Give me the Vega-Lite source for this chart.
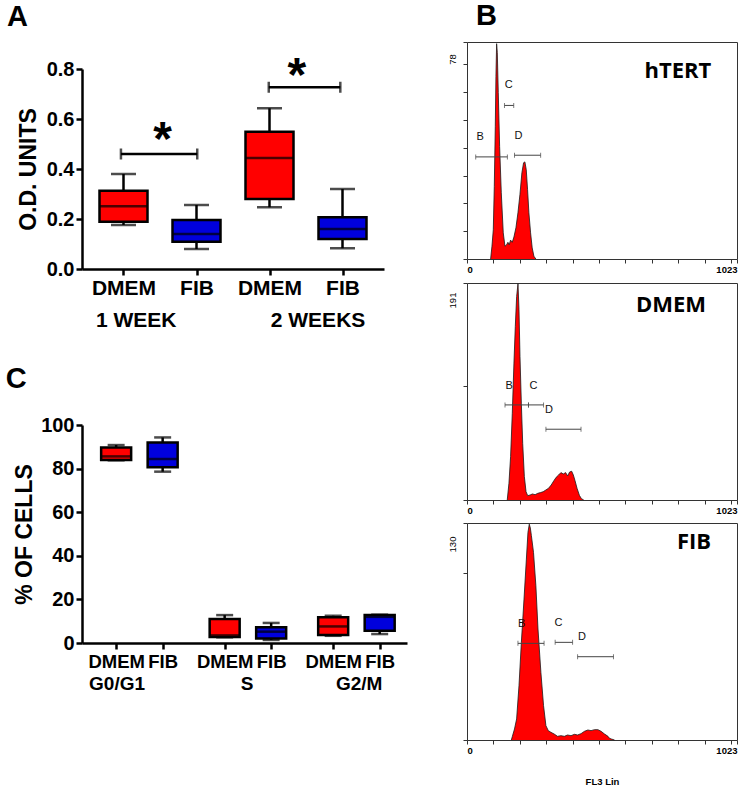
{
  "$schema": "https://vega.github.io/schema/vega-lite/v6.json",
  "padding": {"left": 5, "top": 1, "right": 5, "bottom": 0},
  "background": "white",
  "config": {
    "view": {"stroke": null},
    "font": "Liberation Sans",
    "axis": {"grid": false, "labelColor": "black", "titleColor": "black", "labelFont": "Liberation Sans", "titleFont": "Liberation Sans"},
    "title": {"fontSize": 29, "fontWeight": "bold", "anchor": "start", "frame": "bounds", "baseline": "alphabetic", "color": "black", "font": "Liberation Sans"}
  },
  "datasets": {
    "odUnits": [
      {"group": "DMEM", "week": "1 WEEK", "pos": 1, "low": 0.176, "q1": 0.189, "median": 0.251, "q3": 0.313, "high": 0.38},
      {"group": "FIB", "week": "1 WEEK", "pos": 3, "low": 0.08, "q1": 0.109, "median": 0.14, "q3": 0.196, "high": 0.256},
      {"group": "DMEM", "week": "2 WEEKS", "pos": 5, "low": 0.247, "q1": 0.28, "median": 0.444, "q3": 0.549, "high": 0.643},
      {"group": "FIB", "week": "2 WEEKS", "pos": 7, "low": 0.083, "q1": 0.12, "median": 0.16, "q3": 0.207, "high": 0.32}
    ],
    "odSignificance": [
      {"week": "1 WEEK", "start": 0.93, "end": 3.02, "level": 0.46, "starPos": 2.07, "starLevel": 0.552},
      {"week": "2 WEEKS", "start": 4.98, "end": 6.94, "level": 0.727, "starPos": 5.75, "starLevel": 0.808}
    ],
    "odWeeks": [
      {"week": "1 WEEK", "pos": 1.35, "level": -0.208},
      {"week": "2 WEEKS", "pos": 6.33, "level": -0.208}
    ],
    "cellCycle": [
      {"phase": "G0/G1", "group": "DMEM", "pos": 1, "low": 83.8, "q1": 84, "median": 85.6, "q3": 89.7, "high": 90.8},
      {"phase": "G0/G1", "group": "FIB", "pos": 2.5, "low": 78.6, "q1": 80.6, "median": 84.4, "q3": 92, "high": 94.3},
      {"phase": "S", "group": "DMEM", "pos": 4.5, "low": 2.6, "q1": 2.8, "median": 3.5, "q3": 11, "high": 12.8},
      {"phase": "S", "group": "FIB", "pos": 6, "low": 1.4, "q1": 2.1, "median": 5.2, "q3": 7.2, "high": 9.2},
      {"phase": "G2/M", "group": "DMEM", "pos": 8, "low": 3.3, "q1": 3.7, "median": 7.6, "q3": 11.8, "high": 12.5},
      {"phase": "G2/M", "group": "FIB", "pos": 9.5, "low": 4.1, "q1": 5.6, "median": 12, "q3": 12.8, "high": 13}
    ],
    "cellPhases": [
      {"phase": "G0/G1", "pos": 1.03, "level": -18.8},
      {"phase": "S", "pos": 5.22, "level": -18.8},
      {"phase": "G2/M", "pos": 8.84, "level": -18.8}
    ],
    "histHTERT": [
      {"channel": 89.5, "count": 0}, {"channel": 94.6, "count": 4.6}, {"channel": 99.6, "count": 10.5}, {"channel": 103.4, "count": 26.1},
      {"channel": 107.2, "count": 47.7}, {"channel": 109.7, "count": 65.7}, {"channel": 112.2, "count": 77.4}, {"channel": 114.8, "count": 74.2},
      {"channel": 118.5, "count": 59.8}, {"channel": 123.6, "count": 40.5}, {"channel": 129.9, "count": 23.8}, {"channel": 137.4, "count": 9.4},
      {"channel": 143.8, "count": 4.6}, {"channel": 150, "count": 5.1}, {"channel": 155, "count": 6}, {"channel": 160, "count": 5.1},
      {"channel": 165, "count": 6.8}, {"channel": 171.5, "count": 6}, {"channel": 177.8, "count": 7.9}, {"channel": 185.4, "count": 11.2},
      {"channel": 193, "count": 16.6}, {"channel": 200.5, "count": 23.1}, {"channel": 208, "count": 31}, {"channel": 214.4, "count": 34.6},
      {"channel": 219.4, "count": 34.9}, {"channel": 224.5, "count": 32.1}, {"channel": 229.5, "count": 24.9}, {"channel": 234.5, "count": 16.6},
      {"channel": 240.9, "count": 9.4}, {"channel": 247, "count": 4}, {"channel": 253.5, "count": 1}, {"channel": 261, "count": 0}
    ],
    "histDMEM": [
      {"channel": 152.5, "count": 0}, {"channel": 158.9, "count": 14.7}, {"channel": 165.2, "count": 38.2}, {"channel": 171.6, "count": 76.4},
      {"channel": 177.9, "count": 120.5}, {"channel": 183, "count": 152.8}, {"channel": 188.1, "count": 179.2}, {"channel": 193.2, "count": 190.4},
      {"channel": 197, "count": 167.5}, {"channel": 200.8, "count": 126.3}, {"channel": 205.9, "count": 85.2}, {"channel": 211, "count": 49.9},
      {"channel": 217.3, "count": 20.6}, {"channel": 223.7, "count": 7.3}, {"channel": 230, "count": 3.8}, {"channel": 239, "count": 4.4},
      {"channel": 247.8, "count": 5.3}, {"channel": 258, "count": 4.7}, {"channel": 268.2, "count": 5.9}, {"channel": 278.3, "count": 6.5},
      {"channel": 288.5, "count": 7.3}, {"channel": 298.7, "count": 8.8}, {"channel": 308.9, "count": 10.3}, {"channel": 319, "count": 13.2},
      {"channel": 329.2, "count": 17}, {"channel": 338, "count": 20}, {"channel": 347, "count": 22}, {"channel": 355.9, "count": 24.1},
      {"channel": 364.8, "count": 22.9}, {"channel": 373.7, "count": 24.1}, {"channel": 381.3, "count": 21.2}, {"channel": 388.9, "count": 24.7},
      {"channel": 396.6, "count": 25.3}, {"channel": 402.9, "count": 22}, {"channel": 409.3, "count": 17}, {"channel": 416.9, "count": 10.3},
      {"channel": 425.8, "count": 4.1}, {"channel": 433.4, "count": 1.2}, {"channel": 442.3, "count": 0}
    ],
    "histFIB": [
      {"channel": 168, "count": 0}, {"channel": 172, "count": 2.2}, {"channel": 180, "count": 6.6}, {"channel": 188, "count": 12.6},
      {"channel": 197, "count": 32.5}, {"channel": 206, "count": 58.5}, {"channel": 216, "count": 84.4}, {"channel": 225, "count": 108.4},
      {"channel": 231, "count": 124.4}, {"channel": 236, "count": 129.3}, {"channel": 240, "count": 127}, {"channel": 244, "count": 122.4},
      {"channel": 252, "count": 112.4}, {"channel": 261, "count": 92.4}, {"channel": 269, "count": 66.5}, {"channel": 280, "count": 40.5},
      {"channel": 290, "count": 20.6}, {"channel": 299, "count": 8.6}, {"channel": 308, "count": 5.6}, {"channel": 318, "count": 4.6},
      {"channel": 330, "count": 3.6}, {"channel": 343, "count": 2.2}, {"channel": 356, "count": 2.6}, {"channel": 369, "count": 2.2},
      {"channel": 381, "count": 3}, {"channel": 394, "count": 2.6}, {"channel": 407, "count": 3.4}, {"channel": 419, "count": 3},
      {"channel": 432, "count": 3.8}, {"channel": 445, "count": 5.2}, {"channel": 458, "count": 6}, {"channel": 470, "count": 5.6},
      {"channel": 483, "count": 6.2}, {"channel": 496, "count": 6.2}, {"channel": 508, "count": 5.2}, {"channel": 521, "count": 3.6},
      {"channel": 534, "count": 2.2}, {"channel": 540, "count": 1}, {"channel": 547, "count": 0.6}, {"channel": 559, "count": 0}
    ],
    "gatesHTERT": [
      {"gate": "B", "start": 33, "end": 153, "level": 36.7, "labelPos": 50, "labelLevel": 43.8},
      {"gate": "C", "start": 142, "end": 177, "level": 55.2, "labelPos": 158, "labelLevel": 62.4},
      {"gate": "D", "start": 180, "end": 279, "level": 37.3, "labelPos": 195, "labelLevel": 44.2}
    ],
    "gatesDMEM": [
      {"gate": "B", "start": 144, "end": 233, "level": 83.7, "labelPos": 160, "labelLevel": 100.5},
      {"gate": "C", "start": 233, "end": 290, "level": 83.7, "labelPos": 252, "labelLevel": 100.5},
      {"gate": "D", "start": 299, "end": 432, "level": 62.3, "labelPos": 311, "labelLevel": 79}
    ],
    "gatesFIB": [
      {"gate": "B", "start": 193, "end": 292, "level": 57.9, "labelPos": 207, "labelLevel": 69.5},
      {"gate": "C", "start": 334, "end": 400, "level": 58.5, "labelPos": 347, "labelLevel": 70},
      {"gate": "D", "start": 419, "end": 555, "level": 49.9, "labelPos": 436, "labelLevel": 61.5}
    ],
    "samples": [
      {"sample": "hTERT", "pos": 799, "levelHTERT": 67.4},
      {"sample": "DMEM", "pos": 773, "levelDMEM": 171.6},
      {"sample": "FIB", "pos": 860, "levelFIB": 118.6}
    ]
  },
  "spacing": 39,
  "hconcat": [
    {
      "spacing": 34,
      "vconcat": [
        {
          "spacing": 10,
          "vconcat": [
            {
              "width": 302,
              "height": 1,
              "title": {"text": "A", "offset": 10, "dx": -75},
              "data": {"values": []},
              "mark": {"type": "point", "opacity": 0}
            },
            {
              "width": 302,
              "height": 200,
              "layer": [
                {
                  "data": {"name": "odUnits"},
                  "mark": {"type": "rule", "color": "black", "strokeWidth": 2.5},
                  "encoding": {
                    "x": {"field": "pos", "type": "quantitative", "scale": {"domain": [0, 8], "nice": false, "zero": false},
                      "axis": {"values": [1, 3, 5, 7], "labelExpr": "datum.value == 1 || datum.value == 5 ? 'DMEM' : 'FIB'", "title": null,
                        "domainColor": "black", "domainWidth": 2.5, "tickColor": "black", "tickWidth": 2.5, "tickSize": 6,
                        "labelFontSize": 21, "labelFontWeight": "bold", "labelPadding": 2, "labelFlush": false, "labelOverlap": false}},
                    "y": {"field": "low", "type": "quantitative", "scale": {"domain": [0, 0.8], "nice": false},
                      "axis": {"values": [0, 0.2, 0.4, 0.6, 0.8], "format": ".1f", "title": "O.D. UNITS", "titleFontSize": 23, "titleFontWeight": "bold",
                        "titlePadding": 6, "domainColor": "black", "domainWidth": 2.5, "tickColor": "black", "tickWidth": 2.5, "tickSize": 6,
                        "labelFontSize": 20, "labelFontWeight": "bold", "labelPadding": 2}},
                    "y2": {"field": "high"}
                  }
                },
                {
                  "data": {"name": "odUnits"},
                  "transform": [{"fold": ["low", "high"], "as": ["whisker", "value"]}],
                  "mark": {"type": "tick", "orient": "horizontal", "size": 25, "thickness": 2.5, "color": "black"},
                  "encoding": {
                    "x": {"field": "pos", "type": "quantitative"},
                    "y": {"field": "value", "type": "quantitative"}
                  }
                },
                {
                  "data": {"name": "odUnits"},
                  "mark": {"type": "bar", "size": 48, "stroke": "black", "strokeWidth": 2.5},
                  "encoding": {
                    "x": {"field": "pos", "type": "quantitative"},
                    "y": {"field": "q1", "type": "quantitative"},
                    "y2": {"field": "q3"},
                    "fill": {"field": "group", "type": "nominal", "scale": {"domain": ["DMEM", "FIB"], "range": ["#ff0000", "#0000dd"]}, "legend": null}
                  }
                },
                {
                  "data": {"name": "odUnits"},
                  "mark": {"type": "tick", "orient": "horizontal", "size": 48, "thickness": 2.5, "color": "black"},
                  "encoding": {
                    "x": {"field": "pos", "type": "quantitative"},
                    "y": {"field": "median", "type": "quantitative"}
                  }
                },
                {
                  "data": {"name": "odSignificance"},
                  "mark": {"type": "rule", "color": "black", "strokeWidth": 2.5},
                  "encoding": {
                    "x": {"field": "start", "type": "quantitative"},
                    "x2": {"field": "end"},
                    "y": {"field": "level", "type": "quantitative"}
                  }
                },
                {
                  "data": {"name": "odSignificance"},
                  "transform": [{"fold": ["start", "end"], "as": ["side", "edge"]}],
                  "mark": {"type": "tick", "orient": "vertical", "size": 11, "thickness": 2.5, "color": "black"},
                  "encoding": {
                    "x": {"field": "edge", "type": "quantitative"},
                    "y": {"field": "level", "type": "quantitative"}
                  }
                },
                {
                  "data": {"name": "odSignificance"},
                  "mark": {"type": "text", "text": "*", "fontSize": 48, "fontWeight": "bold", "baseline": "alphabetic", "align": "center", "dy": 24, "color": "black"},
                  "encoding": {
                    "x": {"field": "starPos", "type": "quantitative"},
                    "y": {"field": "starLevel", "type": "quantitative"}
                  }
                },
                {
                  "data": {"name": "odWeeks"},
                  "mark": {"type": "text", "fontSize": 21, "fontWeight": "bold", "baseline": "middle", "align": "center", "color": "black"},
                  "encoding": {
                    "x": {"field": "pos", "type": "quantitative"},
                    "y": {"field": "level", "type": "quantitative", "scale": {"domain": [0, 0.8], "nice": false}},
                    "text": {"field": "week"}
                  }
                }
              ]
            }
          ]
        },
        {
          "width": 325,
          "height": 218,
          "title": {"text": "C", "offset": 21, "dx": -8},
          "layer": [
            {
              "data": {"name": "cellCycle"},
              "mark": {"type": "rule", "color": "black", "strokeWidth": 2.5},
              "encoding": {
                "x": {"field": "pos", "type": "quantitative", "scale": {"domain": [0.06, 10.22], "nice": false, "zero": false},
                  "axis": {"values": [1, 2.5, 4.5, 6, 8, 9.5], "labelExpr": "datum.value == 1 || datum.value == 4.5 || datum.value == 8 ? 'DMEM' : 'FIB'", "title": null,
                    "domainColor": "black", "domainWidth": 2.5, "tickColor": "black", "tickWidth": 2.5, "tickSize": 6,
                    "labelFontSize": 18.5, "labelFontWeight": "bold", "labelPadding": 3, "labelFlush": false, "labelOverlap": false}},
                "y": {"field": "low", "type": "quantitative", "scale": {"domain": [0, 100], "nice": false},
                  "axis": {"values": [0, 20, 40, 60, 80, 100], "title": "% OF CELLS", "titleFontSize": 23, "titleFontWeight": "bold",
                    "titlePadding": 4, "domainColor": "black", "domainWidth": 2.5, "tickColor": "black", "tickWidth": 2.5, "tickSize": 6,
                    "labelFontSize": 20, "labelFontWeight": "bold", "labelPadding": 2}},
                "y2": {"field": "high"}
              }
            },
            {
              "data": {"name": "cellCycle"},
              "transform": [{"fold": ["low", "high"], "as": ["whisker", "value"]}],
              "mark": {"type": "tick", "orient": "horizontal", "size": 17, "thickness": 2.5, "color": "black"},
              "encoding": {
                "x": {"field": "pos", "type": "quantitative"},
                "y": {"field": "value", "type": "quantitative"}
              }
            },
            {
              "data": {"name": "cellCycle"},
              "mark": {"type": "bar", "size": 30, "stroke": "black", "strokeWidth": 2.5},
              "encoding": {
                "x": {"field": "pos", "type": "quantitative"},
                "y": {"field": "q1", "type": "quantitative"},
                "y2": {"field": "q3"},
                "fill": {"field": "group", "type": "nominal", "scale": {"domain": ["DMEM", "FIB"], "range": ["#ff0000", "#0000dd"]}, "legend": null}
              }
            },
            {
              "data": {"name": "cellCycle"},
              "mark": {"type": "tick", "orient": "horizontal", "size": 30, "thickness": 2.5, "color": "black"},
              "encoding": {
                "x": {"field": "pos", "type": "quantitative"},
                "y": {"field": "median", "type": "quantitative"}
              }
            },
            {
              "data": {"name": "cellPhases"},
              "mark": {"type": "text", "fontSize": 19, "fontWeight": "bold", "baseline": "middle", "align": "center", "color": "black"},
              "encoding": {
                "x": {"field": "pos", "type": "quantitative"},
                "y": {"field": "level", "type": "quantitative", "scale": {"domain": [0, 100], "nice": false}},
                "text": {"field": "phase"}
              }
            }
          ]
        }
      ]
    },
    {
      "spacing": 4,
      "vconcat": [
        {
          "width": 270,
          "height": 217,
          "view": {"stroke": "#333", "strokeWidth": 1},
          "title": {"text": "B", "offset": 11, "dx": 29},
          "layer": [
            {
              "data": {"name": "histHTERT"},
              "mark": {"type": "area", "color": "#ff0000", "opacity": 1, "line": {"color": "#1a1a1a", "strokeWidth": 0.8}},
              "encoding": {
                "x": {"field": "channel", "type": "quantitative", "scale": {"domain": [0, 1023], "nice": false, "zero": false},
                  "axis": {"values": [0, 100, 200, 300, 400, 500, 600, 700, 800, 900, 1000, 1023], "tickCount": 20, "format": "d",
                    "labelExpr": "datum.value == 0 || datum.value == 1023 ? datum.label : ''", "labelFlush": false, "labelOverlap": false,
                    "labelAlign": {"condition": {"test": "datum.value == 0", "value": "left"}, "value": "right"}, "title": null,
                    "domain": false, "tickColor": "#333", "tickSize": 4, "labelFontSize": 9.5, "labelFontWeight": "bold", "labelPadding": 1}},
                "y": {"field": "count", "type": "quantitative", "scale": {"domain": [0, 78], "nice": false},
                  "axis": {"values": [0, 10, 20, 30, 40, 50, 60, 70, 78], "tickCount": 20, "labelExpr": "datum.value == 78 ? '78' : ''", "title": null,
                    "labelAngle": -90, "labelAlign": "center", "labelBaseline": "bottom", "labelOffset": 17, "labelFlush": false, "labelOverlap": false,
                    "domain": false, "tickColor": "#333", "tickSize": 4, "labelFontSize": 9.5, "labelPadding": 6}}
              }
            },
            {
              "data": {"name": "gatesHTERT"},
              "mark": {"type": "rule", "color": "#444", "strokeWidth": 1},
              "encoding": {
                "x": {"field": "start", "type": "quantitative"},
                "x2": {"field": "end"},
                "y": {"field": "level", "type": "quantitative"}
              }
            },
            {
              "data": {"name": "gatesHTERT"},
              "transform": [{"fold": ["start", "end"], "as": ["side", "edge"]}],
              "mark": {"type": "tick", "orient": "vertical", "size": 5, "thickness": 1, "color": "#444"},
              "encoding": {
                "x": {"field": "edge", "type": "quantitative"},
                "y": {"field": "level", "type": "quantitative"}
              }
            },
            {
              "data": {"name": "gatesHTERT"},
              "mark": {"type": "text", "fontSize": 11, "color": "#111", "baseline": "middle", "align": "center"},
              "encoding": {
                "x": {"field": "labelPos", "type": "quantitative"},
                "y": {"field": "labelLevel", "type": "quantitative"},
                "text": {"field": "gate"}
              }
            },
            {
              "data": {"name": "samples"},
              "transform": [{"filter": "datum.sample == 'hTERT'"}],
              "mark": {"type": "text", "font": "Open Sans", "fontWeight": "bold", "fontSize": 22, "baseline": "middle", "align": "center", "color": "black"},
              "encoding": {
                "x": {"field": "pos", "type": "quantitative"},
                "y": {"field": "levelHTERT", "type": "quantitative"},
                "text": {"field": "sample"}
              }
            }
          ]
        },
        {
          "width": 270,
          "height": 217,
          "view": {"stroke": "#333", "strokeWidth": 1},
          "layer": [
            {
              "data": {"name": "histDMEM"},
              "mark": {"type": "area", "color": "#ff0000", "opacity": 1, "line": {"color": "#1a1a1a", "strokeWidth": 0.8}},
              "encoding": {
                "x": {"field": "channel", "type": "quantitative", "scale": {"domain": [0, 1023], "nice": false, "zero": false},
                  "axis": {"values": [0, 100, 200, 300, 400, 500, 600, 700, 800, 900, 1000, 1023], "tickCount": 20, "format": "d",
                    "labelExpr": "datum.value == 0 || datum.value == 1023 ? datum.label : ''", "labelFlush": false, "labelOverlap": false,
                    "labelAlign": {"condition": {"test": "datum.value == 0", "value": "left"}, "value": "right"}, "title": null,
                    "domain": false, "tickColor": "#333", "tickSize": 4, "labelFontSize": 9.5, "labelFontWeight": "bold", "labelPadding": 1}},
                "y": {"field": "count", "type": "quantitative", "scale": {"domain": [0, 191], "nice": false},
                  "axis": {"values": [0, 100, 191], "labelExpr": "datum.value == 191 ? '191' : ''", "title": null,
                    "labelAngle": -90, "labelAlign": "center", "labelBaseline": "bottom", "labelOffset": 17, "labelFlush": false, "labelOverlap": false,
                    "domain": false, "tickColor": "#333", "tickSize": 4, "labelFontSize": 9.5, "labelPadding": 6}}
              }
            },
            {
              "data": {"name": "gatesDMEM"},
              "mark": {"type": "rule", "color": "#444", "strokeWidth": 1},
              "encoding": {
                "x": {"field": "start", "type": "quantitative"},
                "x2": {"field": "end"},
                "y": {"field": "level", "type": "quantitative"}
              }
            },
            {
              "data": {"name": "gatesDMEM"},
              "transform": [{"fold": ["start", "end"], "as": ["side", "edge"]}],
              "mark": {"type": "tick", "orient": "vertical", "size": 5, "thickness": 1, "color": "#444"},
              "encoding": {
                "x": {"field": "edge", "type": "quantitative"},
                "y": {"field": "level", "type": "quantitative"}
              }
            },
            {
              "data": {"name": "gatesDMEM"},
              "mark": {"type": "text", "fontSize": 11, "color": "#111", "baseline": "middle", "align": "center"},
              "encoding": {
                "x": {"field": "labelPos", "type": "quantitative"},
                "y": {"field": "labelLevel", "type": "quantitative"},
                "text": {"field": "gate"}
              }
            },
            {
              "data": {"name": "samples"},
              "transform": [{"filter": "datum.sample == 'DMEM'"}],
              "mark": {"type": "text", "font": "Open Sans", "fontWeight": "bold", "fontSize": 22, "baseline": "middle", "align": "center", "color": "black"},
              "encoding": {
                "x": {"field": "pos", "type": "quantitative"},
                "y": {"field": "levelDMEM", "type": "quantitative"},
                "text": {"field": "sample"}
              }
            }
          ]
        },
        {
          "width": 270,
          "height": 217,
          "view": {"stroke": "#333", "strokeWidth": 1},
          "layer": [
            {
              "data": {"name": "histFIB"},
              "mark": {"type": "area", "color": "#ff0000", "opacity": 1, "line": {"color": "#1a1a1a", "strokeWidth": 0.8}},
              "encoding": {
                "x": {"field": "channel", "type": "quantitative", "scale": {"domain": [0, 1023], "nice": false, "zero": false},
                  "axis": {"values": [0, 100, 200, 300, 400, 500, 600, 700, 800, 900, 1000, 1023], "tickCount": 20, "format": "d",
                    "labelExpr": "datum.value == 0 || datum.value == 1023 ? datum.label : ''", "labelFlush": false, "labelOverlap": false,
                    "labelAlign": {"condition": {"test": "datum.value == 0", "value": "left"}, "value": "right"}, "title": "FL3 Lin",
                    "titleFontSize": 9.5, "titleFontWeight": "bold", "titlePadding": 22,
                    "domain": false, "tickColor": "#333", "tickSize": 4, "labelFontSize": 9.5, "labelFontWeight": "bold", "labelPadding": 1}},
                "y": {"field": "count", "type": "quantitative", "scale": {"domain": [0, 130], "nice": false},
                  "axis": {"values": [0, 100, 130], "labelExpr": "datum.value == 130 ? '130' : ''", "title": null,
                    "labelAngle": -90, "labelAlign": "center", "labelBaseline": "bottom", "labelOffset": 21, "labelFlush": false, "labelOverlap": false,
                    "domain": false, "tickColor": "#333", "tickSize": 4, "labelFontSize": 9.5, "labelPadding": 6}}
              }
            },
            {
              "data": {"name": "gatesFIB"},
              "mark": {"type": "rule", "color": "#444", "strokeWidth": 1},
              "encoding": {
                "x": {"field": "start", "type": "quantitative"},
                "x2": {"field": "end"},
                "y": {"field": "level", "type": "quantitative"}
              }
            },
            {
              "data": {"name": "gatesFIB"},
              "transform": [{"fold": ["start", "end"], "as": ["side", "edge"]}],
              "mark": {"type": "tick", "orient": "vertical", "size": 5, "thickness": 1, "color": "#444"},
              "encoding": {
                "x": {"field": "edge", "type": "quantitative"},
                "y": {"field": "level", "type": "quantitative"}
              }
            },
            {
              "data": {"name": "gatesFIB"},
              "mark": {"type": "text", "fontSize": 11, "color": "#111", "baseline": "middle", "align": "center"},
              "encoding": {
                "x": {"field": "labelPos", "type": "quantitative"},
                "y": {"field": "labelLevel", "type": "quantitative"},
                "text": {"field": "gate"}
              }
            },
            {
              "data": {"name": "samples"},
              "transform": [{"filter": "datum.sample == 'FIB'"}],
              "mark": {"type": "text", "font": "Open Sans", "fontWeight": "bold", "fontSize": 22, "baseline": "middle", "align": "center", "color": "black"},
              "encoding": {
                "x": {"field": "pos", "type": "quantitative"},
                "y": {"field": "levelFIB", "type": "quantitative"},
                "text": {"field": "sample"}
              }
            }
          ]
        }
      ]
    }
  ]
}
